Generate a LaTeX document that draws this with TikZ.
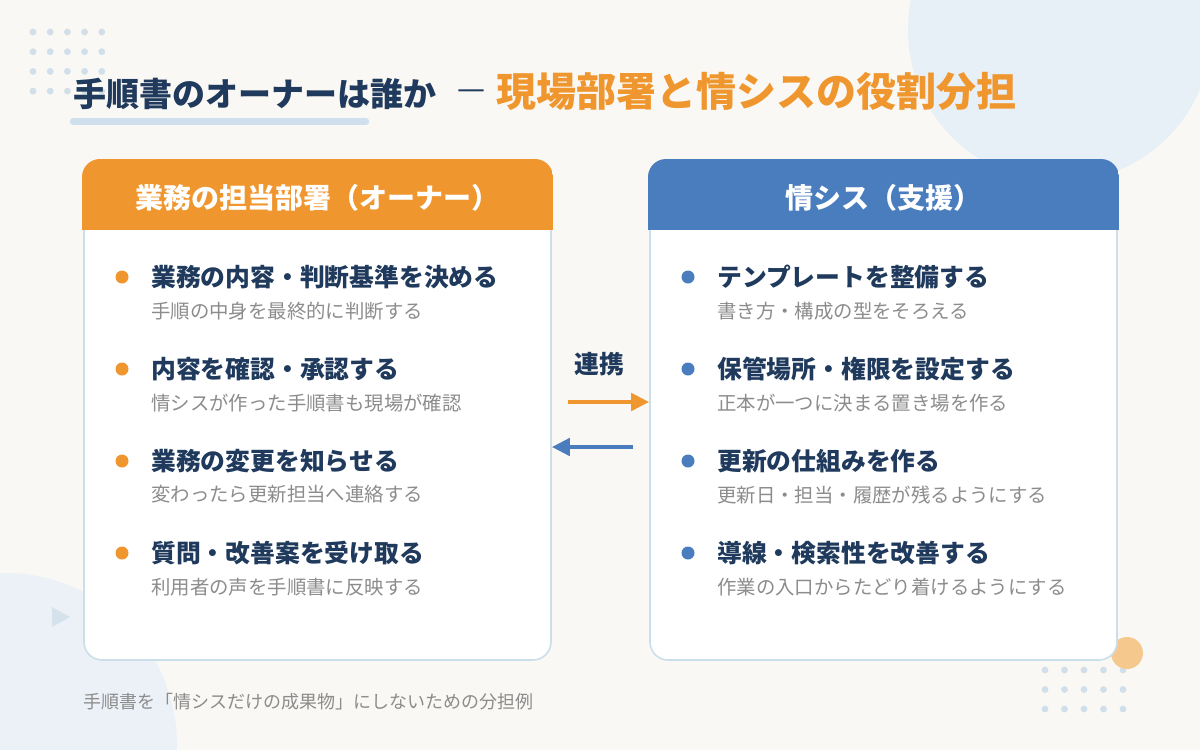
\documentclass[tikz,border=0pt]{standalone}
\usepackage{fontspec}
\setmainfont{Noto Sans CJK JP}
\newfontfamily\dashfont{DejaVu Sans}
\usetikzlibrary{positioning, arrows.meta}
\definecolor{bgcream}{HTML}{FAF8F4}
\definecolor{navy}{HTML}{1F3A5C}
\definecolor{hdorange}{HTML}{F0962E}
\definecolor{hdblue}{HTML}{4A7DBE}
\definecolor{subgray}{HTML}{8C8C8C}
\definecolor{cardline}{HTML}{CBDFEB}
\definecolor{circblue}{HTML}{E7EFF7}
\definecolor{dotblue}{HTML}{D0DFE9}
\definecolor{barblue}{HTML}{CFE0EC}
\definecolor{peach}{HTML}{F5C88E}
\tikzset{card/.style={draw=cardline, line width=0.8pt, fill=white, rounded corners=9pt,
  minimum width=233.5pt, minimum height=249.5pt, inner sep=0pt}}
\tikzset{hdtext/.style={text=white, font=\bfseries\fontsize{14}{16}\selectfont, inner sep=0pt}}
\tikzset{bullet/.style={circle, inner sep=0pt, minimum size=6.5pt}}
\tikzset{itemtitle/.style={text=navy, font=\bfseries\fontsize{12.4}{14}\selectfont, inner sep=0pt}}
\tikzset{itemsub/.style={text=subgray, font=\fontsize{9.7}{12}\selectfont, inner sep=0pt}}
\tikzset{arco/.style={line width=2.3pt, -{Triangle[length=9pt,width=8.5pt]}}}

\begin{document}
\begin{tikzpicture}[x=0.5pt, y=-0.5pt]
    \fill[bgcream] (0,0) rectangle (1200,750);
    \useasboundingbox (0,0) rectangle (1200,750);

    % decoration
    \fill[circblue] (1060,30) circle (76pt);
    \fill[circblue!80!bgcream] (5,745) circle (86pt);
    \foreach \i in {0,...,4}
        \foreach \j in {0,...,3}
            \fill[dotblue] (33+17.2*\i, 32+19.7*\j) circle (1.7pt);
    \foreach \i in {0,...,4}
        \foreach \j in {0,...,2}
            \fill[dotblue] (1045+19.5*\i, 670+19.5*\j) circle (1.7pt);
    \fill[dotblue!90!white] (52,607) -- (70,617) -- (52,627) -- cycle;
    \fill[peach] (1127,653) circle (8pt);

    % title
    \node[text=navy, font=\bfseries\fontsize{16.5}{18}\selectfont, inner sep=0pt, anchor=base west]
        (ttl1) at (73,106.5) {手順書のオーナーは誰か};
    \node[text=navy, font=\dashfont\fontsize{14}{16}\selectfont, inner sep=0pt, base right=10pt of ttl1, yshift=4pt]
        (ttldash) {—};
    \node[text=hdorange, font=\bfseries\fontsize{20}{22}\selectfont, inner sep=0pt, anchor=base west]
        (ttl2) at ([xshift=5pt]ttldash.east |- ttl1.base) {現場部署と情シスの役割分担};
    \draw[barblue, line width=3.2pt, line cap=round] (73,121.5) -- (366,121.5);

    % cards
    \node[card] (lcard) at (317.5,410.5) {};
    \node[card] (rcard) at (883.5,410.5) {};
    \begin{scope}
        \clip[rounded corners=9pt] ([shift={(-0.6pt,0.6pt)}]lcard.north west) rectangle ([shift={(0.6pt,-0.6pt)}]lcard.south east);
        \fill[hdorange] ([shift={(-0.6pt,0.6pt)}]lcard.north west) rectangle ([shift={(0.6pt,-35pt)}]lcard.north east);
    \end{scope}
    \begin{scope}
        \clip[rounded corners=9pt] ([shift={(-0.6pt,0.6pt)}]rcard.north west) rectangle ([shift={(0.6pt,-0.6pt)}]rcard.south east);
        \fill[hdblue] ([shift={(-0.6pt,0.6pt)}]rcard.north west) rectangle ([shift={(0.6pt,-35pt)}]rcard.north east);
    \end{scope}
    \node[hdtext] (lhd) at ([yshift=-19pt]lcard.north) {業務の担当部署（オーナー）};
    \node[hdtext] (rhd) at ([yshift=-19pt]rcard.north) {情シス（支援）};

    % owner side
    \node[bullet, fill=hdorange] (ld1) at (122,277) {};
    \node[itemtitle, right=11pt of ld1] (lt1) {業務の内容・判断基準を決める};
    \node[itemsub, below=6pt of lt1.south west, anchor=north west] (ls1) {手順の中身を最終的に判断する};
    \node[bullet, fill=hdorange] (ld2) at (122,369) {};
    \node[itemtitle, right=11pt of ld2] (lt2) {内容を確認・承認する};
    \node[itemsub, below=6pt of lt2.south west, anchor=north west] (ls2) {情シスが作った手順書も現場が確認};
    \node[bullet, fill=hdorange] (ld3) at (122,461) {};
    \node[itemtitle, right=11pt of ld3] (lt3) {業務の変更を知らせる};
    \node[itemsub, below=6pt of lt3.south west, anchor=north west] (ls3) {変わったら更新担当へ連絡する};
    \node[bullet, fill=hdorange] (ld4) at (122,553) {};
    \node[itemtitle, right=11pt of ld4] (lt4) {質問・改善案を受け取る};
    \node[itemsub, below=6pt of lt4.south west, anchor=north west] (ls4) {利用者の声を手順書に反映する};

    % support side
    \node[bullet, fill=hdblue] (rd1) at (688,277) {};
    \node[itemtitle, right=11pt of rd1] (rt1) {テンプレートを整備する};
    \node[itemsub, below=6pt of rt1.south west, anchor=north west] (rs1) {書き方・構成の型をそろえる};
    \node[bullet, fill=hdblue] (rd2) at (688,369) {};
    \node[itemtitle, right=11pt of rd2] (rt2) {保管場所・権限を設定する};
    \node[itemsub, below=6pt of rt2.south west, anchor=north west] (rs2) {正本が一つに決まる置き場を作る};
    \node[bullet, fill=hdblue] (rd3) at (688,461) {};
    \node[itemtitle, right=11pt of rd3] (rt3) {更新の仕組みを作る};
    \node[itemsub, below=6pt of rt3.south west, anchor=north west] (rs3) {更新日・担当・履歴が残るようにする};
    \node[bullet, fill=hdblue] (rd4) at (688,553) {};
    \node[itemtitle, right=11pt of rd4] (rt4) {導線・検索性を改善する};
    \node[itemsub, below=6pt of rt4.south west, anchor=north west] (rs4) {作業の入口からたどり着けるようにする};

    % link
    \node[itemtitle] (link) at (599,364) {連携};
    \coordinate (oa) at (568,402);
    \coordinate (ba) at (633,447);
    \draw[arco, hdorange] (oa) -- (oa -| rcard.west);
    \draw[arco, hdblue] (ba) -- (ba -| lcard.east);

    \node[text=subgray, font=\fontsize{9}{11}\selectfont, inner sep=0pt, anchor=west]
        (note) at (83,702) {手順書を「情シスだけの成果物」にしないための分担例};
\end{tikzpicture}
\end{document}
